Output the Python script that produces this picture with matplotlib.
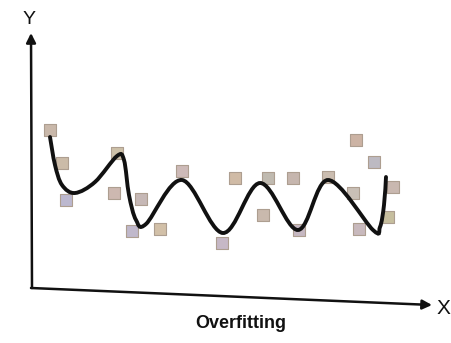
import numpy as np
import matplotlib.pyplot as plt
from matplotlib.path import Path
from matplotlib.patches import PathPatch

# scatter points (pixel coords, y down)
pts_x = [50, 62, 66, 117, 114, 141, 132, 160, 182, 222, 235, 263, 268,
         293, 299, 328, 353, 359, 356, 374, 393, 388]
pts_y = [130, 163, 200, 153, 193, 199, 231, 229, 171, 243, 178, 215, 178,
         178, 230, 177, 193, 229, 140, 162, 187, 217]
pts_col = ['#c9b8aa', '#cbbba8', '#bcb8cf', '#cdc0a8', '#cdb8b0', '#c6b8b6',
           '#c0b8cb', '#d2c0a8', '#cdbab8', '#c6b8c6', '#d0bba6', '#c9b9ad',
           '#c0bab0', '#c6b6ae', '#c6b8c2', '#cbbdb0', '#c9bfb6', '#c8b9bd',
           '#ccb3a4', '#bdbac2', '#c9b8b0', '#c6be9e']

# control points of the wiggly fitted curve
curve_x = [50, 55, 62, 75, 95, 117, 124, 129, 136, 146, 182, 223,
           260, 298, 328, 373, 380, 384, 386]
curve_y = [137, 165, 185, 193, 182, 156, 160, 195, 220, 224, 180, 233,
           183, 230, 180, 230, 227, 205, 177]

fig = plt.figure(figsize=(4.52, 3.43), dpi=100)
ax = fig.add_axes([0, 0, 1, 1])
ax.set_xlim(0, 452)
ax.set_ylim(343, 0)
ax.axis('off')

# catmull-rom -> cubic bezier path
p = np.column_stack([curve_x, curve_y]).astype(float)
p_ext = np.vstack([p[0], p, p[-1]])
verts = [p[0]]
codes = [Path.MOVETO]
for i in range(1, len(p_ext) - 2):
    p0, p1, p2, p3 = p_ext[i - 1], p_ext[i], p_ext[i + 1], p_ext[i + 2]
    c1 = p1 + (p2 - p0) / 6
    c2 = p2 - (p3 - p1) / 6
    verts += [c1, c2, p2]
    codes += [Path.CURVE4] * 3
ax.add_patch(PathPatch(Path(verts, codes), fill=False, lw=2.8,
                       edgecolor='#111111', capstyle='round', zorder=3))

ax.scatter(pts_x, pts_y, marker='s', s=80, c=pts_col, edgecolors='#ad9e90',
           linewidths=0.8, zorder=2)

# axes drawn as arrows
ax.annotate('', xy=(31, 33), xytext=(32, 288),
            arrowprops=dict(arrowstyle='-|>', lw=1.8, color='#111111',
                            mutation_scale=14, shrinkA=0, shrinkB=0))
ax.annotate('', xy=(432, 305), xytext=(31, 288),
            arrowprops=dict(arrowstyle='-|>', lw=1.8, color='#111111',
                            mutation_scale=14, shrinkA=0, shrinkB=0))

ax.text(29, 20, 'Y', fontsize=14, ha='center', va='center',
        family='Liberation Sans', color='#111111')
ax.text(443, 308, 'X', fontsize=15, ha='center', va='center',
        family='Liberation Sans', color='#111111')
ax.text(241, 323, 'Overfitting', fontsize=13, fontweight='bold',
        ha='center', va='center', family='Liberation Sans', color='#111111')

fig.savefig('out.png', dpi=100)
